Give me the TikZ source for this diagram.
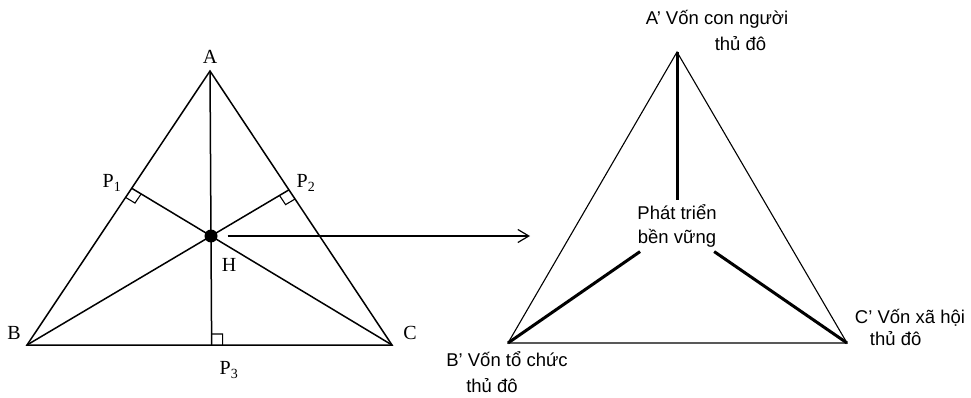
\documentclass[tikz,border=0pt]{standalone}
\usepackage{fontspec}
\setmainfont{Liberation Serif}
\setsansfont{Liberation Sans}
\usetikzlibrary{arrows.meta,calc}

\begin{document}
\begin{tikzpicture}[x=1pt, y=-1pt,
    side/.style={line width=1.5pt},
    thinside/.style={line width=1.1pt},
    spoke/.style={line width=3pt},
    ptlabel/.style={font=\fontsize{20}{23}\selectfont, inner sep=0pt},
    caplabel/.style={font=\sffamily\fontsize{18.5}{26}\selectfont, align=left, inner sep=0pt},
    hub/.style={font=\sffamily\fontsize{18.5}{24}\selectfont, align=center, inner xsep=0pt, inner ysep=4pt},
    dot/.style={circle, fill=black, minimum size=13pt, inner sep=0pt},
    flow/.style={line width=1.2pt, -{Straight Barb[length=11pt,width=13pt]}}
  ]
  \useasboundingbox (0,0) rectangle (971,398);

  % Triangle ABC with its three lines through H
  \coordinate (A) at (210,71);
  \coordinate (B) at (27,345);
  \coordinate (C) at (392,345);
  \node[dot] (H) at (211,236) {};
  \coordinate (P1) at (intersection of C--H and A--B);
  \coordinate (P2) at (intersection of B--H and A--C);
  \coordinate (P3) at (intersection of A--H and B--C);

  \draw[side] (A) -- (B) -- (C) -- cycle;
  \draw[side] (A) -- (P3);
  \draw[side] (B) -- (P2);
  \draw[side] (C) -- (P1);

  % right angle marks
  \foreach \f/\u/\v in {P1/B/H, P2/C/H, P3/C/H} {
    \draw[thinside] ($(\f)!11pt!(\u)$) -- ($(\f)!11pt!(\u) + (\f)!11pt!(\v) - (\f)$) -- ($(\f)!11pt!(\v)$);
  }

  \node[ptlabel] (labA) at (210,57) {A};
  \node[ptlabel] (labB) at (14,333) {B};
  \node[ptlabel] (labC) at (410,333) {C};
  \node[ptlabel] (labP1) at (112,183) {P\textsubscript{1}};
  \node[ptlabel] (labP2) at (306,183) {P\textsubscript{2}};
  \node[ptlabel] (labP3) at (229,370) {P\textsubscript{3}};
  \node[ptlabel] (labH) at (229,265) {H};

  % arrow to the second triangle
  \coordinate (tip) at (530,236);
  \draw[flow, shorten <=10pt] (H) -- (tip);

  % Triangle A'B'C'
  \coordinate (Ap) at (677,52);
  \coordinate (Bp) at (508,343);
  \coordinate (Cp) at (847,343);
  \draw[thinside] (Ap) -- (Bp) -- (Cp) -- cycle;

  \node[hub] (hub) at (677,226) {Phát triển\\bền vững};
  \draw[spoke] (Ap) -- (hub);
  \draw[spoke] (Bp) -- (hub);
  \draw[spoke] (Cp) -- (hub);

  \node[caplabel] (labAp) at (717,30) {A' Vốn con người\\\hspace*{69pt}thủ đô};
  \node[caplabel] (labBp) at (507,372) {B' Vốn tổ chức\\\hspace*{20pt}thủ đô};
  \node[caplabel] (labCp) at (910,327) {C' Vốn xã hội\\[-4pt]\hspace*{15pt}thủ đô};
\end{tikzpicture}
\end{document}
